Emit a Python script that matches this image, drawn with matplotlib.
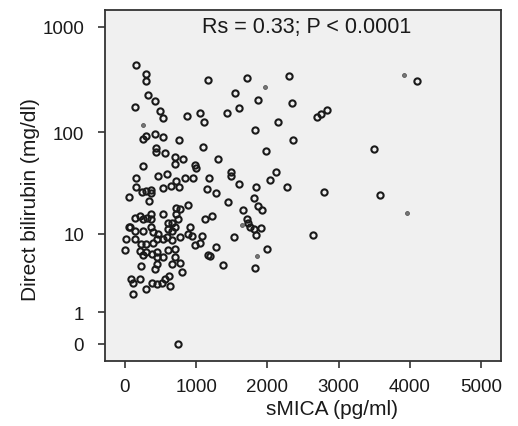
import matplotlib
matplotlib.use("Agg")
import matplotlib.pyplot as plt
import numpy as np

plt.rcParams["font.family"] = ["Liberation Sans", "DejaVu Sans"]

# sMICA (pg/ml) vs direct bilirubin (mg/dl)
smica = [160, 290, 300, 1170, 1710, 2300, 4100, 1545, 330, 420, 140, 1870,
         2350, 1600, 490, 530, 870, 1050, 1430, 1110, 2700, 2750, 2830, 2150,
         1830, 420, 300, 260, 540, 760, 2360, 1100, 430, 440, 560, 1980, 3490,
         700, 700, 810, 1300, 260, 980, 1000, 1490, 1490, 2120, 2030, 160, 470,
         590, 710, 650, 540, 760, 850, 950, 1180, 1150, 1280, 1600, 1840, 2270,
         2790, 3580, 160, 240, 300, 360, 370, 60, 340, 890, 1450, 1810, 710,
         770, 720, 750, 540, 140, 210, 250, 310, 370, 370, 600, 660, 70, 360,
         910, 1220, 1120, 1870, 1920, 1660, 1720, 1730, 1760, 1810, 1910, 1840,
         1530, 2640, 50, 140, 260, 400, 610, 660, 700, 940, 880, 770, 20, 140,
         590, 660, 540, 470, 450, 1080, 980, 1050, 1280, 0, 230, 300, 400, 210,
         260, 300, 380, 450, 610, 700, 1170, 1190, 540, 450, 700, 220, 450, 420,
         660, 770, 800, 90, 120, 210, 380, 450, 520, 560, 620, 290, 630, 110,
         2000, 1830, 1380, 750]
bilirubin = [439, 358, 304, 314, 328, 341, 306, 235, 225, 197, 175, 204,
             189, 169, 158, 137, 142, 153, 153, 124, 141, 149, 162, 124,
             106, 97, 93, 87, 89, 85, 85, 72.5, 70, 64, 63, 66, 69,
             58, 49, 55, 55, 47, 48, 45, 41.5, 37.7, 41.5, 35, 36, 38,
             39.6, 34, 30.5, 28.8, 29.3, 35.9, 36, 36, 28.2, 25.8, 32, 29.4, 29.4,
             26.7, 24.9, 29.4, 26.5, 27.2, 27.9, 25.6, 23.6, 21.7, 19.8, 20.9, 23, 18.2,
             18, 16, 14.4, 16, 14.6, 15.1, 14.25, 14.6, 16, 14.25, 12.9, 13.1, 11.9, 11.9,
             11.9, 15.3, 14.1, 19.4, 17.5, 17.5, 14.4, 13.1, 11.7, 11.3, 11.6, 9.8,
             9.3, 9.8, 11.7, 10.7, 10.8, 10.4, 11.3, 10.7, 11.7, 9.6, 10, 9.2, 8.9, 8.9,
             9.2, 8.65, 8.9, 10, 8.9, 9.6, 7.7, 8, 7.3, 6.8, 7.8, 7.8, 8, 6.6,
             6.0, 6.4, 6.1, 6.4, 6.8, 6.9, 6.0, 5.8, 5.6, 5.6, 5.6, 4.5, 4.7, 4.1,
             4.7, 4.9, 3.8, 3.1, 2.8, 3.1, 2.8, 2.7, 2.75, 3.1, 3.4, 2.3, 2.5, 2.0,
             6.9, 4.2, 4.6, 0]

# faint small dots
smica_small = [3920, 1960, 260, 1640, 3960, 1850]
bilirubin_small = [351, 271, 117, 12.4, 16.3, 5.85]

y_ticks = [0, 1, 10, 100, 1000]
x_ticks = [0, 1000, 2000, 3000, 4000, 5000]
annot = "Rs = 0.33; P < 0.0001"


def fwd(y):
    return np.log10(np.clip(y, -0.99, None) + 1)


def inv(t):
    return 10 ** t - 1


ink = "#1a1a1a"
fig = plt.figure(figsize=(5.18, 4.27), dpi=100)
ax = fig.add_axes([0.2027, 0.1522, 0.7645, 0.822])
ax.set_facecolor("#f0f0f0")
ax.set_yscale("function", functions=(fwd, inv))

ax.plot(smica, bilirubin, "o", ls="none", ms=4.5, mfc="none", mec=ink, mew=1.5)
ax.plot(smica_small, bilirubin_small, "o", ls="none", ms=2.8, mfc="#777777",
        mec="#555555", mew=0.6)

ax.set_xlim(-280, 5280)
ax.set_ylim(-0.31, 1447)
ax.set_xticks(x_ticks)
ax.set_xticklabels([str(v) for v in x_ticks])
ax.set_yticks(y_ticks)
ax.set_yticklabels([str(v) for v in y_ticks])
ax.minorticks_off()
ax.tick_params(axis="both", length=5, width=1.2, color="#333333",
               labelsize=13.5, labelcolor=ink)
ax.tick_params(axis="y", pad=10)
ax.tick_params(axis="x", pad=7)
for s in ax.spines.values():
    s.set_linewidth(1.3)
    s.set_color("#333333")

ax.set_xlabel("sMICA (pg/ml)", fontsize=15, color=ink)
ax.xaxis.set_label_coords(0.573, -0.108)
ax.set_ylabel("Direct bilirubin (mg/dl)", fontsize=15, color=ink)
ax.yaxis.set_label_coords(-0.164, 0.4615)

ax.text(0.51, 0.952, annot, transform=ax.transAxes, ha="center", va="center",
        fontsize=15.5, color=ink)

fig.savefig("out.png", dpi=100)
